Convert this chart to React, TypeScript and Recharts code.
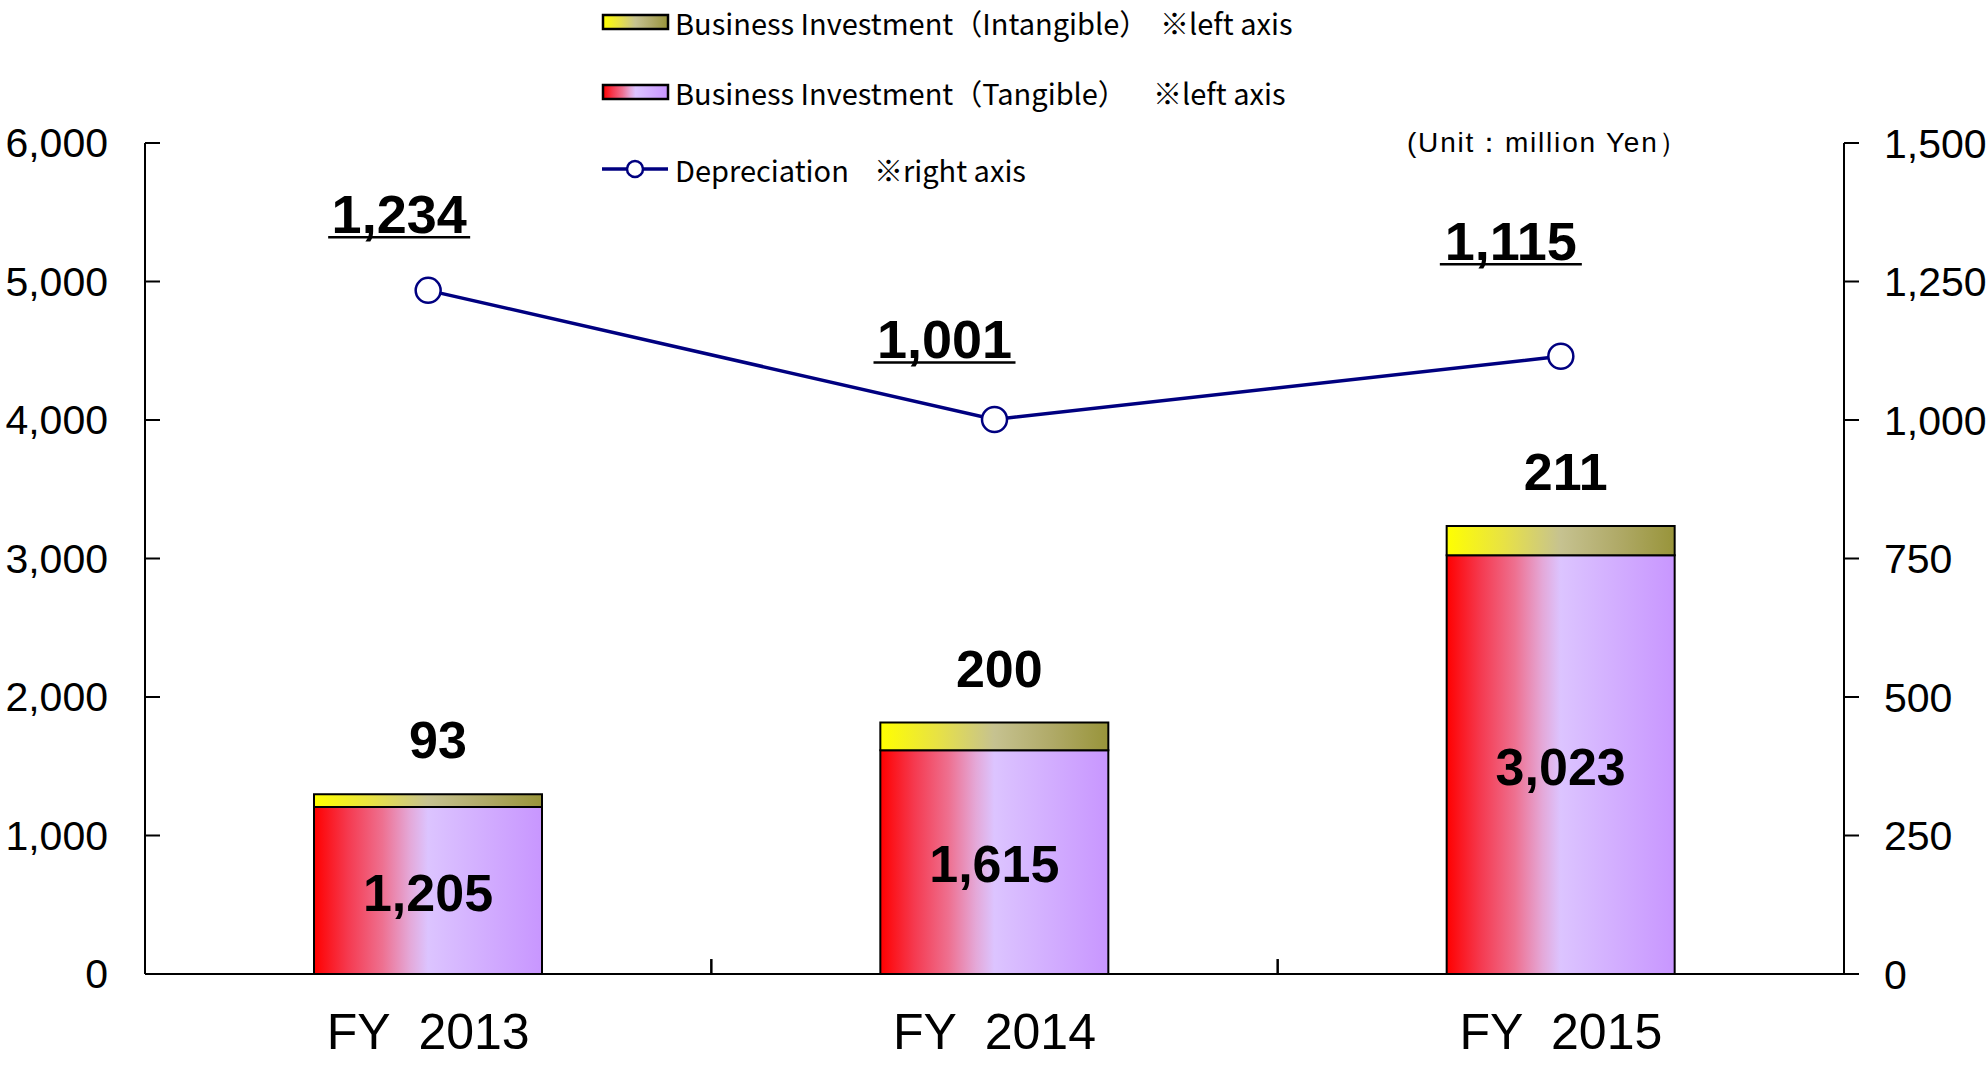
import { ComposedChart, Bar, Line, XAxis, YAxis, LabelList, Legend, ReferenceLine } from "recharts";

const categories = ["FY 2013", "FY 2014", "FY 2015"];
const tangible = [1205, 1615, 3023];
const intangible = [93, 200, 211];
const depreciation = [1234, 1001, 1115];
const leftTicks = [0, 1000, 2000, 3000, 4000, 5000, 6000];
const rightTicks = [0, 250, 500, 750, 1000, 1250, 1500];

// hand placed label nudges (as in the original sheet)
const depLabelDx = [-29, -50, -50];
const depLabelDy = [-57, -61, -96];
const intLabelDx = [10, 5, 5];

const data = categories.map((c, i) => ({
  name: c,
  tangible: tangible[i],
  intangible: intangible[i],
  depreciation: depreciation[i],
}));

const NUM_FONT = "'Liberation Sans', Arial, sans-serif";
const JP_FONT = "'Noto Sans CJK JP', 'Liberation Sans', sans-serif";
const fmt = (v: number) => v.toLocaleString("en-US");

function Gradients({ prefix }: { prefix: string }) {
  return (
    <defs>
      <linearGradient id={`${prefix}tan`} x1="0" y1="0" x2="1" y2="0">
        <stop offset="0" stopColor="#ff0000" />
        <stop offset="0.15" stopColor="#f53a50" />
        <stop offset="0.3" stopColor="#ee7090" />
        <stop offset="0.42" stopColor="#e4a8d8" />
        <stop offset="0.5" stopColor="#dcc4ff" />
        <stop offset="1" stopColor="#c896ff" />
      </linearGradient>
      <linearGradient id={`${prefix}int`} x1="0" y1="0" x2="1" y2="0">
        <stop offset="0" stopColor="#ffff00" />
        <stop offset="0.25" stopColor="#e8e244" />
        <stop offset="0.5" stopColor="#c6c290" />
        <stop offset="0.75" stopColor="#b0aa68" />
        <stop offset="1" stopColor="#98943a" />
      </linearGradient>
    </defs>
  );
}

const LeftTick = (props: any) => {
  const { x, y, payload } = props;
  return (
    <g>
      <line x1={x} x2={x + 15} y1={y} y2={y} stroke="#000" strokeWidth={2} />
      <text x={x - 37} y={y} textAnchor="end" dominantBaseline="central" fontFamily={NUM_FONT} fontSize={41} fill="#000">
        {fmt(payload.value)}
      </text>
    </g>
  );
};

const CatTick = (props: any) => {
  const { x, y, payload } = props;
  return (
    <text x={x} y={y + 58} textAnchor="middle" dominantBaseline="central" fontFamily={NUM_FONT} fontSize={50} fill="#000">
      {String(payload.value).replace(" ", "\u00a0\u00a0")}
    </text>
  );
};

const DepLabel = (props: any) => {
  const { x, y, value } = props;
  const i = depreciation.indexOf(value);
  const cx = x + depLabelDx[i];
  const by = y + depLabelDy[i];
  const w = 142;
  return (
    <g>
      <text x={cx} y={by} textAnchor="middle" fontFamily={NUM_FONT} fontWeight="bold" fontSize={54} fill="#000">
        {fmt(value)}
      </text>
      <line x1={cx - w / 2} x2={cx + w / 2} y1={by + 4} y2={by + 4} stroke="#000" strokeWidth={2.5} />
    </g>
  );
};

const IntLabel = (props: any) => {
  const { x, y, width, value } = props;
  const i = intangible.indexOf(value);
  return (
    <text x={x + width / 2 + intLabelDx[i]} y={y - 36} textAnchor="middle" fontFamily={NUM_FONT} fontWeight="bold" fontSize={52} fill="#000">
      {fmt(value)}
    </text>
  );
};

const TanLabel = (props: any) => {
  const { x, y, width, height, value } = props;
  return (
    <text x={x + width / 2} y={y + height / 2 + 2} textAnchor="middle" dominantBaseline="central" fontFamily={NUM_FONT} fontWeight="bold" fontSize={52} fill="#000">
      {fmt(value)}
    </text>
  );
};

const legendRows = [
  { kind: "bar", fill: "lg-int", label: "Business Investment\uff08Intangible\uff09", note: "\u203bleft axis", noteX: 1160, y: 22 },
  { kind: "bar", fill: "lg-tan", label: "Business Investment\uff08Tangible\uff09", note: "\u203bleft axis", noteX: 1153, y: 92 },
  { kind: "line", fill: "", label: "Depreciation", note: "\u203bright axis", noteX: 874, y: 169 },
];

function ChartLegend() {
  return (
    <svg width={1987} height={200} style={{ display: "block" }}>
      <Gradients prefix="lg-" />
      {legendRows.map((r) => (
        <g key={r.label}>
          {r.kind === "bar" ? (
            <rect x={603} y={r.y - 7} width={65} height={14} fill={`url(#${r.fill})`} stroke="#000" strokeWidth={2.5} />
          ) : (
            <g>
              <line x1={602} x2={668} y1={r.y} y2={r.y} stroke="#000080" strokeWidth={3.5} />
              <circle cx={635} cy={r.y} r={8} fill="#fff" stroke="#000080" strokeWidth={2.5} />
            </g>
          )}
          <text x={675} y={r.y} dominantBaseline="central" fontFamily={JP_FONT} fontSize={29} fill="#000">
            {r.label}
          </text>
          <text x={r.noteX} y={r.y} dominantBaseline="central" fontFamily={JP_FONT} fontSize={29} fill="#000">
            {r.note}
          </text>
        </g>
      ))}
    </svg>
  );
}

export default function App() {
  return (
    <div style={{ position: "absolute", left: 0, top: 0, width: 1987, height: 1066, background: "#fff" }}>
      <ComposedChart width={1987} height={1066} data={data} margin={{ top: 143, right: 0, bottom: 0, left: 0 }}>
        <Gradients prefix="ch-" />
        <XAxis
          dataKey="name"
          height={92}
          tickLine={false}
          tickSize={0}
          tickMargin={0}
          axisLine={{ stroke: "#000", strokeWidth: 2 }}
          tick={<CatTick />}
        />
        <YAxis
          yAxisId="left"
          width={145}
          domain={[0, 6000]}
          ticks={leftTicks}
          interval={0}
          tickLine={false}
          tickSize={0}
          tickMargin={0}
          axisLine={{ stroke: "#000", strokeWidth: 2 }}
          tick={<LeftTick />}
        />
        <YAxis
          yAxisId="right"
          orientation="right"
          width={143}
          domain={[0, 1500]}
          ticks={rightTicks}
          interval={0}
          tickSize={15}
          tickMargin={25}
          tickFormatter={fmt}
          axisLine={{ stroke: "#000", strokeWidth: 2 }}
          tickLine={{ stroke: "#000", strokeWidth: 2 }}
          tick={{ fill: "#000", fontSize: 41, fontFamily: NUM_FONT }}
        />
        {categories.slice(0, -1).map((c) => (
          <ReferenceLine
            key={c}
            yAxisId="left"
            position="end"
            segment={[{ x: c, y: 0 }, { x: c, y: 108 }]}
            stroke="#000"
            strokeWidth={2.5}
          />
        ))}
        <Bar dataKey="tangible" yAxisId="left" stackId="inv" barSize={228} fill="url(#ch-tan)" stroke="#000" strokeWidth={2} isAnimationActive={false}>
          <LabelList dataKey="tangible" content={<TanLabel />} />
        </Bar>
        <Bar dataKey="intangible" yAxisId="left" stackId="inv" barSize={228} fill="url(#ch-int)" stroke="#000" strokeWidth={2} isAnimationActive={false}>
          <LabelList dataKey="intangible" content={<IntLabel />} />
        </Bar>
        <Line
          dataKey="depreciation"
          yAxisId="right"
          type="linear"
          stroke="#000080"
          strokeWidth={3.5}
          dot={{ r: 12.5, fill: "#fff", stroke: "#000080", strokeWidth: 2.5 }}
          activeDot={false}
          isAnimationActive={false}
        >
          <LabelList dataKey="depreciation" content={<DepLabel />} />
        </Line>
        <Legend
          layout="vertical"
          align="center"
          verticalAlign="middle"
          content={() => <ChartLegend />}
          wrapperStyle={{ position: "absolute", left: 0, top: 0, width: 1987, height: 200 }}
        />
      </ComposedChart>
      <div
        style={{
          position: "absolute",
          left: 1407,
          top: 127,
          fontFamily: NUM_FONT,
          fontSize: 28,
          letterSpacing: 1.8,
          color: "#000",
          whiteSpace: "pre",
          lineHeight: "32px",
        }}
      >
        (Unit{"\uff1a"}million Yen{"\uff09"}
      </div>
    </div>
  );
}
